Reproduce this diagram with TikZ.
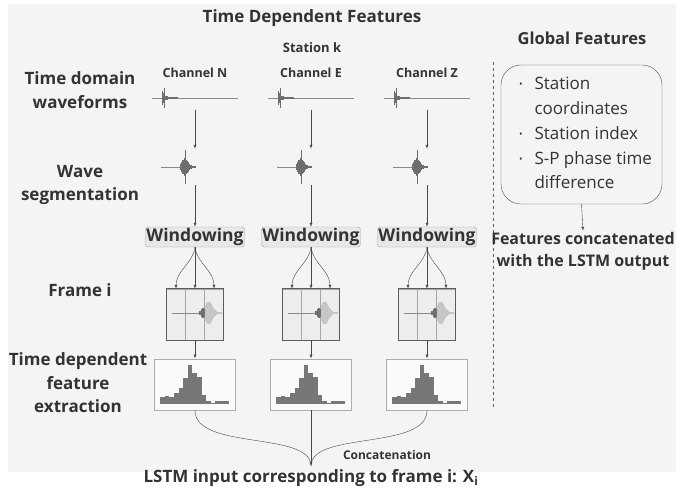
\documentclass[tikz,border=0pt]{standalone}
\usepackage{fontspec}
\setmainfont{Open Sans}
\usetikzlibrary{positioning}

\definecolor{txt}{HTML}{333333}
\definecolor{panel}{HTML}{F4F4F4}
\definecolor{barc}{HTML}{777777}
\definecolor{wavec}{HTML}{6E6E6E}

% raw trace, spike near the left end
\newcommand{\rawwave}[2]{%
  \draw[wavec!80,line width=0.6pt] (#1-43,#2) -- (#1+43,#2);
  \draw[wavec,line width=0.8pt] (#1-31,#2-10) -- (#1-31,#2+10);
  \foreach \i in {0,...,30}{
    \pgfmathsetmacro{\hh}{0.6+6*exp(-\i/6)*(0.5+0.5*abs(cos(\i*77)))}
    \draw[wavec,line width=0.5pt] (#1-33+\i*0.5,#2-\hh) -- (#1-33+\i*0.5,#2+\hh);
  }
}
% segmented trace
\newcommand{\segwave}[2]{%
  \draw[wavec!80,line width=0.6pt] (#1-34,#2) -- (#1-12,#2);
  \draw[wavec,line width=0.9pt] (#1-10,#2-17) -- (#1-10,#2+17);
  \foreach \i in {0,...,30}{
    \pgfmathsetmacro{\hh}{1+8*exp(-((\i-9)/8)*((\i-9)/8))*(0.6+0.4*abs(cos(\i*67)))}
    \draw[wavec,line width=0.55pt] (#1-15+\i*0.5,#2-\hh) -- (#1-15+\i*0.5,#2+\hh);
  }
}
% trace inside a frame
\newcommand{\framewave}[2]{%
  \draw[wavec!80,line width=0.5pt] (#1-23,#2) -- (#1+5,#2);
  \foreach \i in {0,...,12}{
    \pgfmathsetmacro{\hh}{1+4*exp(-((\i-8)/5)*((\i-8)/5))}
    \draw[wavec,line width=0.5pt] (#1+4+\i*0.5,#2-\hh) -- (#1+4+\i*0.5,#2+\hh);
  }
  \foreach \i in {0,...,32}{
    \pgfmathsetmacro{\hh}{0.5+11*exp(-((\i-7)/11)*((\i-7)/11))*(0.7+0.3*abs(cos(\i*71)))}
    \draw[gray!45,line width=0.5pt] (#1+10+\i*0.5,#2-\hh) -- (#1+10+\i*0.5,#2+\hh);
  }
}
% histogram bars in a box
\newcommand{\histo}[1]{%
  \foreach \hgt [count=\k from 0] in {7,8,7,11,16,26,39,31,27,9,3,1,3,3,3}
    \fill[barc] ([shift={(6+\k*4.6,-6)}]#1.south west) rectangle ++(4.7,-\hgt);
}

\begin{document}
\begin{tikzpicture}[x=1pt,y=-1pt,>=latex,
    lbl/.style={font=\fontsize{17}{23.5}\selectfont\bfseries,text=txt,align=center},
    chan/.style={font=\fontsize{12.5}{14}\selectfont\bfseries,text=txt},
    winbox/.style={draw=gray!70,fill=gray!18,rounded corners=3pt,inner sep=1pt,
      minimum width=98pt,minimum height=20pt,font=\fontsize{17.5}{17.5}\selectfont\bfseries,text=txt},
    fsec/.style={draw=gray!70,fill=gray!14,minimum width=19pt,minimum height=51pt,inner sep=0pt},
    hbox/.style={draw=gray!65,fill=white!50!panel,line width=0.8pt,minimum width=81pt,
      minimum height=51pt,inner sep=0pt},
    trace/.style={minimum width=#1,minimum height=24pt,inner sep=0pt},
    arr/.style={->,draw=txt!90,thin},
    link/.style={draw=txt!90,thin}]

  \useasboundingbox (0,0) rectangle (683,491);
  \fill[panel] (8,4) rectangle (676,472);

  % headings
  \node[font=\fontsize{17}{19}\selectfont\bfseries,text=txt] (ttl) at (312,18) {Time Dependent Features};
  \node[font=\fontsize{13}{15}\selectfont\bfseries,text=txt] (stn) at (312,48) {Station k};
  \node[font=\fontsize{16.5}{18}\selectfont\bfseries,text=txt] (glb) at (582,38) {Global Features};

  % row labels
  \node[lbl] (l1) at (80,90) {Time domain\\waveforms};
  \node[lbl] (l2) at (80,185) {Wave\\segmentation};
  \node[lbl] (l3) at (80,290) {Frame i};
  \node[lbl] (l4) at (78,383) {Time dependent\\feature\\extraction};

  % one column per channel
  \foreach \c/\x in {N/195,E/311,Z/427}{
    \node[chan] (c\c) at (\x,73) {Channel \c};
    \node[trace=86pt] (r\c) at (\x,98) {};
    \rawwave{\x}{98}
    \node[trace=70pt,minimum height=36pt] (s\c) at (\x,167) {};
    \segwave{\x}{167}
    \node[winbox] (w\c) at (\x,237) {Windowing};
    \node[fsec] (f\c1) at (\x-19,314.5) {};
    \node[fsec] (f\c2) at (\x,314.5) {};
    \node[fsec] (f\c3) at (\x+19,314.5) {};
    \draw[txt!80,line width=0.9pt] (f\c1.north west) rectangle (f\c3.south east);
    \framewave{\x}{313}
    \node[hbox] (h\c) at (\x,384.5) {};
    \histo{h\c}

    \draw[arr] (r\c.south) -- (s\c.north);
    \draw[arr] (s\c.south) -- (w\c.north);
    \draw[arr] (w\c.south) .. controls +(-2,16) and +(0,-18) .. (f\c1.north);
    \draw[arr] (w\c.south) -- (f\c2.north);
    \draw[arr] (w\c.south) .. controls +(2,16) and +(0,-18) .. (f\c3.north);
    \draw[arr] (f\c2.south) -- (h\c.north);
  }

  % concatenation
  \node[font=\fontsize{17}{19}\selectfont\bfseries,text=txt] (lstm) at (311,478)
    {LSTM input corresponding to frame i: X\textsubscript{i}};
  \node[font=\fontsize{12}{14}\selectfont\bfseries,text=txt] (cat) at (387,455) {Concatenation};
  \draw[link] (hN.south) .. controls +(0,40) and +(0,-35) .. (lstm.north);
  \draw[link] (hZ.south) .. controls +(0,40) and +(0,-35) .. (lstm.north);
  \draw[arr] (hE.south) -- (lstm.north);

  % divider
  \draw[txt!80,dashed,thin] (493,62) -- (493,410);

  % global features
  \node[draw=txt!85,fill=panel,rounded corners=20pt,minimum width=161pt,minimum height=139pt,
    font=\fontsize{17}{24.75}\selectfont,text=txt] (gf) at (581.5,134.5)
    {\begin{tabular}{@{\hspace{8pt}}l@{\hspace{12pt}}l@{}}
      \raisebox{2pt}{\scalebox{0.55}{\textbullet}} & Station\\
       & coordinates\\
      \raisebox{2pt}{\scalebox{0.55}{\textbullet}} & Station index\\
      \raisebox{2pt}{\scalebox{0.55}{\textbullet}} & S-P phase time\\
       & difference
    \end{tabular}};
  \node[font=\fontsize{16}{22}\selectfont\bfseries,text=txt,align=center,inner sep=1pt]
    (fc) at (583,251) {Features concatenated\\with the LSTM output};
  \draw[arr] (gf.south) -- (fc.north);
\end{tikzpicture}
\end{document}
